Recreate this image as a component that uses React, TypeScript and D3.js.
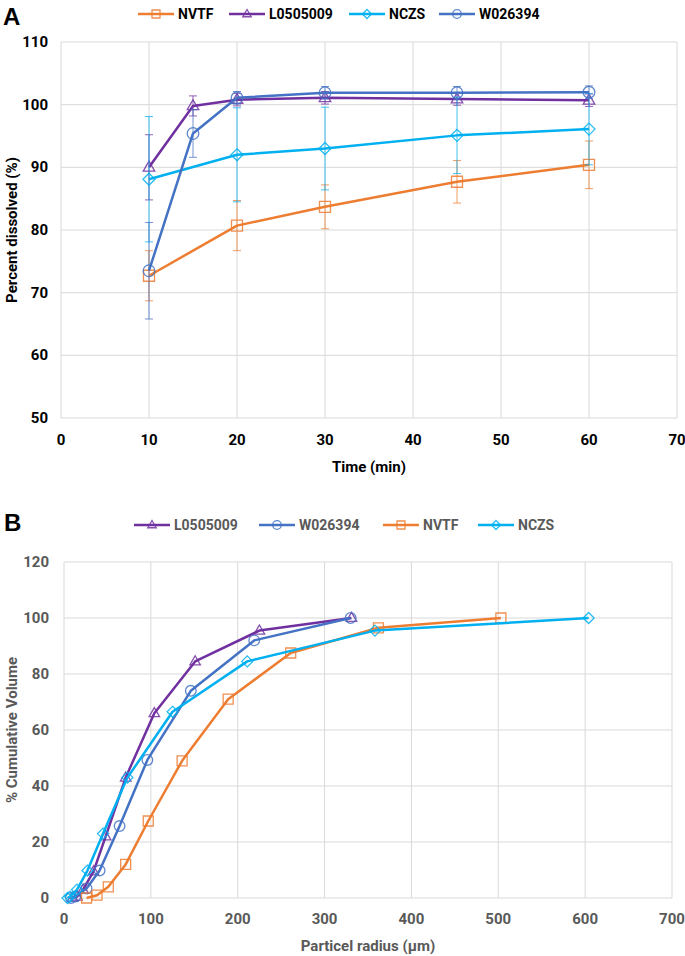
import React from "react";
import * as d3 from "d3";

// ---------- Panel A data (dissolution) ----------
const aXTicks = [0, 10, 20, 30, 40, 50, 60, 70];
const aYTicks = [50, 60, 70, 80, 90, 100, 110];

const nvtfTimeA = [10, 20, 30, 45, 60];
const nvtfValA = [72.7, 80.7, 83.7, 87.7, 90.4];
const nvtfErrA = [4.0, 4.0, 3.5, 3.4, 3.8];

const l05TimeA = [10, 15, 20, 30, 45, 60];
const l05ValA = [90.0, 99.8, 100.8, 101.1, 100.9, 100.7];
const l05ErrA = [5.2, 1.6, 1.0, 1.0, 1.0, 1.0];

const nczsTimeA = [10, 20, 30, 45, 60];
const nczsValA = [88.1, 92.0, 93.0, 95.1, 96.1];
const nczsErrA = [10.0, 7.5, 6.6, 6.1, 5.7];

const w02TimeA = [10, 15, 20, 30, 45, 60];
const w02ValA = [73.5, 95.4, 101.1, 101.9, 101.9, 102.0];
const w02ErrA = [7.7, 3.8, 1.0, 1.0, 1.0, 1.0];

// ---------- Panel B data (particle size) ----------
const bXTicks = [0, 100, 200, 300, 400, 500, 600, 700];
const bYTicks = [0, 20, 40, 60, 80, 100, 120];

const l05RadB = [10, 15, 22, 34, 48, 71, 104, 151, 225, 331];
const l05VolB = [0, 0.5, 3, 9.5, 22, 43, 66, 84.5, 95.5, 100];

const w02RadB = [8, 13, 26, 41, 64, 96, 146, 219, 330];
const w02VolB = [0, 0.5, 3.4, 9.8, 25.7, 49.3, 74, 92, 100];

const nvtfRadB = [26, 38, 51, 71, 97, 136, 189, 261, 362, 503];
const nvtfVolB = [0, 1, 4, 12, 27.5, 49, 71, 87.5, 96.5, 100];

const nczsRadB = [4, 7, 15, 27, 45, 73, 125, 211, 358, 604];
const nczsVolB = [0, 0.5, 3, 9.8, 23, 43, 66.5, 84.5, 95.5, 100];

type Shape = "square" | "triangle" | "diamond" | "circle";

const COLORS: Record<string, string> = {
  NVTF: "#ED7D31",
  L0505009: "#7030A0",
  NCZS: "#00B0F0",
  W026394: "#4472C4",
};
const SHAPES: Record<string, Shape> = {
  NVTF: "square",
  L0505009: "triangle",
  NCZS: "diamond",
  W026394: "circle",
};

const FONT = "Roboto, 'Noto Sans', 'DejaVu Sans', sans-serif";

function markerPath(shape: Shape, s: number): string {
  const h = s / 2;
  if (shape === "square") return `M${-h},${-h}H${h}V${h}H${-h}Z`;
  if (shape === "diamond") return `M0,${-h - 0.5}L${h + 0.5},0L0,${h + 0.5}L${-h - 0.5},0Z`;
  if (shape === "triangle") {
    const t = s * 1.05;
    const hh = (t * Math.sqrt(3)) / 2;
    return `M0,${-hh * 0.62}L${t / 2},${hh * 0.38}L${-t / 2},${hh * 0.38}Z`;
  }
  const r = h + 0.3;
  return `M${r},0A${r},${r} 0 1,1 ${-r},0A${r},${r} 0 1,1 ${r},0Z`;
}

function Marker({ x, y, name, size }: { x: number; y: number; name: string; size: number }) {
  return (
    <path
      d={markerPath(SHAPES[name], size)}
      transform={`translate(${x},${y})`}
      fill="none"
      stroke={COLORS[name]}
      strokeWidth={1.3}
      strokeOpacity={0.85}
    />
  );
}

interface Series {
  name: string;
  xs: number[];
  ys: number[];
  err?: number[];
}

function Legend({ items, x0, y, textColor }: { items: string[]; x0: number[]; y: number; textColor: string }) {
  return (
    <g>
      {items.map((name, i) => (
        <g key={name} transform={`translate(${x0[i]},${y})`}>
          <line x1={0} x2={36} y1={0} y2={0} stroke={COLORS[name]} strokeWidth={2.5} />
          <Marker x={18} y={0} name={name} size={8} />
          <text x={40} y={5} fontSize={14} fontWeight={700} fill={textColor} fontFamily={FONT}>
            {name}
          </text>
        </g>
      ))}
    </g>
  );
}

function Panel({
  series,
  xDomain,
  yDomain,
  xTicks,
  yTicks,
  range,
  textColor,
  markerSize,
  xTitle,
  yTitle,
  xLabelBase,
  xTitleBase,
  yLabelRight,
}: {
  series: Series[];
  xDomain: [number, number];
  yDomain: [number, number];
  xTicks: number[];
  yTicks: number[];
  range: { x0: number; x1: number; y0: number; y1: number };
  textColor: string;
  markerSize: number;
  xTitle: string;
  yTitle: string;
  xLabelBase: number;
  xTitleBase: number;
  yLabelRight: number;
}) {
  const x = d3.scaleLinear().domain(xDomain).range([range.x0, range.x1]);
  const y = d3.scaleLinear().domain(yDomain).range([range.y1, range.y0]);
  const line = d3
    .line<[number, number]>()
    .x((d) => x(d[0]))
    .y((d) => y(d[1]));
  const grid = "#D9D9D9";
  const cy = (range.y0 + range.y1) / 2;
  return (
    <g fontFamily={FONT}>
      {xTicks.map((t) => (
        <line key={"gx" + t} x1={x(t)} x2={x(t)} y1={range.y0} y2={range.y1} stroke={grid} strokeWidth={1} />
      ))}
      {yTicks.map((t) => (
        <line key={"gy" + t} x1={range.x0} x2={range.x1} y1={y(t)} y2={y(t)} stroke={grid} strokeWidth={1} />
      ))}
      {yTicks.map((t) => (
        <text key={"ly" + t} x={yLabelRight} y={y(t) + 5} textAnchor="end" fontSize={15} fontWeight={700} fill={textColor}>
          {t}
        </text>
      ))}
      {xTicks.map((t) => (
        <text key={"lx" + t} x={x(t)} y={xLabelBase} textAnchor="middle" fontSize={15} fontWeight={700} fill={textColor}>
          {t}
        </text>
      ))}
      <text x={(range.x0 + range.x1) / 2} y={xTitleBase} textAnchor="middle" fontSize={15} fontWeight={700} fill={textColor}>
        {xTitle}
      </text>
      <text
        transform={`translate(17,${cy}) rotate(-90)`}
        textAnchor="middle"
        fontSize={15}
        fontWeight={700}
        fill={textColor}
      >
        {yTitle}
      </text>
      {series.map((s) => (
        <g key={s.name}>
          {s.err &&
            s.xs.map((xv, i) => {
              const e = s.err![i];
              const px = x(xv);
              const top = y(s.ys[i] + e);
              const bot = y(s.ys[i] - e);
              return (
                <g key={i} stroke={COLORS[s.name]} strokeWidth={1} strokeOpacity={0.75}>
                  <line x1={px} x2={px} y1={top} y2={bot} />
                  <line x1={px - 4} x2={px + 4} y1={top} y2={top} />
                  <line x1={px - 4} x2={px + 4} y1={bot} y2={bot} />
                </g>
              );
            })}
          <path
            d={line(s.xs.map((v, i) => [v, s.ys[i]] as [number, number])) || ""}
            fill="none"
            stroke={COLORS[s.name]}
            strokeWidth={2.5}
            strokeLinejoin="round"
          />
          {s.xs.map((v, i) => (
            <Marker key={i} x={x(v)} y={y(s.ys[i])} name={s.name} size={markerSize} />
          ))}
        </g>
      ))}
    </g>
  );
}

export default function App() {
  const seriesA: Series[] = [
    { name: "NVTF", xs: nvtfTimeA, ys: nvtfValA, err: nvtfErrA },
    { name: "L0505009", xs: l05TimeA, ys: l05ValA, err: l05ErrA },
    { name: "NCZS", xs: nczsTimeA, ys: nczsValA, err: nczsErrA },
    { name: "W026394", xs: w02TimeA, ys: w02ValA, err: w02ErrA },
  ];
  const seriesB: Series[] = [
    { name: "L0505009", xs: l05RadB, ys: l05VolB },
    { name: "W026394", xs: w02RadB, ys: w02VolB },
    { name: "NVTF", xs: nvtfRadB, ys: nvtfVolB },
    { name: "NCZS", xs: nczsRadB, ys: nczsVolB },
  ];
  return (
    <svg
      width={685}
      height={956}
      style={{ position: "absolute", left: 0, top: 0, background: "#fff" }}
    >
      <rect width={685} height={956} fill="#fff" />
      <text x={3} y={25} fontSize={24} fontWeight={700} fontFamily="'Liberation Sans', Arial, sans-serif" fill="#000">
        A
      </text>
      <Legend
        items={["NVTF", "L0505009", "NCZS", "W026394"]}
        x0={[138, 229, 349, 439]}
        y={14}
        textColor="#000"
      />
      <Panel
        series={seriesA}
        xDomain={[0, 70]}
        yDomain={[50, 110]}
        xTicks={aXTicks}
        yTicks={aYTicks}
        range={{ x0: 61, x1: 677, y0: 42, y1: 418 }}
        textColor="#000"
        markerSize={11}
        xTitle="Time (min)"
        yTitle="Percent dissolved (%)"
        xLabelBase={445}
        xTitleBase={472}
        yLabelRight={48}
      />
      <text x={4} y={531} fontSize={24} fontWeight={700} fontFamily="'Liberation Sans', Arial, sans-serif" fill="#000">
        B
      </text>
      <Legend
        items={["L0505009", "W026394", "NVTF", "NCZS"]}
        x0={[134, 259, 383, 478]}
        y={525}
        textColor="#595959"
      />
      <Panel
        series={seriesB}
        xDomain={[0, 700]}
        yDomain={[0, 120]}
        xTicks={bXTicks}
        yTicks={bYTicks}
        range={{ x0: 64, x1: 672, y0: 562, y1: 898 }}
        textColor="#595959"
        markerSize={10}
        xTitle="Particel radius (μm)"
        yTitle="% Cumulative Volume"
        xLabelBase={924}
        xTitleBase={951}
        yLabelRight={49}
      />
    </svg>
  );
}
